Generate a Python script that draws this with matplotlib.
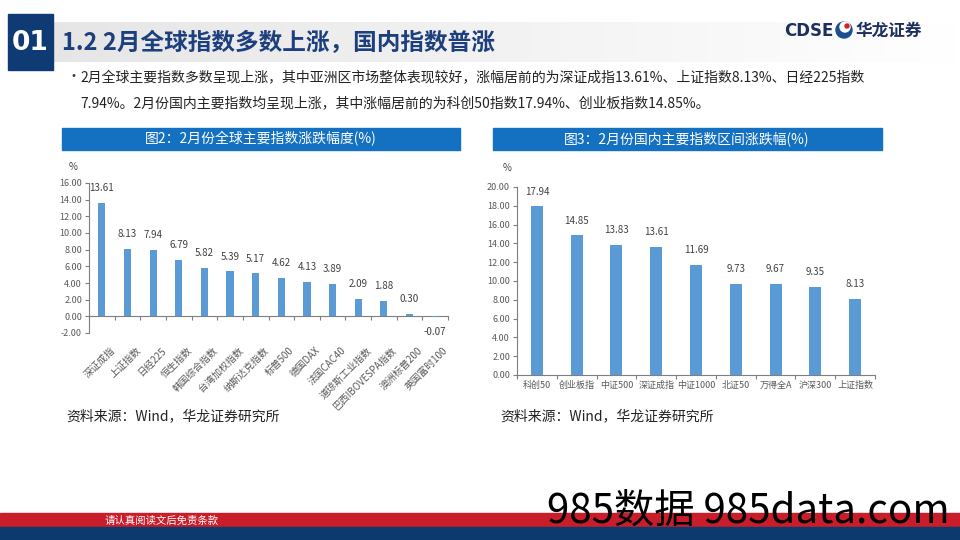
import numpy as np
import matplotlib
matplotlib.use('Agg')
import matplotlib.pyplot as plt
from matplotlib.patches import Rectangle, Circle
import matplotlib.transforms as mtrans

plt.rcParams['font.family'] = ['Noto Sans CJK SC', 'DejaVu Sans']

# global indices, Feb change (%)
global_names = ['深证成指', '上证指数', '日经225', '恒生指数', '韩国综合指数', '台湾加权指数',
                '纳斯达克指数', '标普500', '德国DAX', '法国CAC40', '道琼斯工业指数',
                '巴西IBOVESPA指数', '澳洲标普200', '英国富时100']
global_vals = [13.61, 8.13, 7.94, 6.79, 5.82, 5.39, 5.17, 4.62, 4.13, 3.89, 2.09, 1.88, 0.30, -0.07]
global_yticks = np.arange(-2, 17, 2)

# domestic indices, Feb change (%)
cn_names = ['科创50', '创业板指', '中证500', '深证成指', '中证1000', '北证50', '万得全A', '沪深300', '上证指数']
cn_vals = [17.94, 14.85, 13.83, 13.61, 11.69, 9.73, 9.67, 9.35, 8.13]
cn_yticks = np.arange(0, 21, 2)

W, H = 960, 540
BAR = '#5B9BD5'
AX_C = '#7F7F7F'
TICK_C = '#595959'

fig = plt.figure(figsize=(9.6, 5.4), dpi=100)

# background axes in pixel coords for the page decoration
bg = fig.add_axes([0, 0, 1, 1])
bg.axis('off')

# gray title band fading to white
grad = np.linspace(0.90, 1.0, 256)[None, :]
bg.imshow(np.dstack([grad, grad, grad]), extent=(53, W, 62, 22), aspect='auto', zorder=0)
bg.set_xlim(0, W)
bg.set_ylim(H, 0)
bg.add_patch(Rectangle((8, 14), 45, 56, color='#0E3B74', zorder=2))
bg.text(30.5, 43, '01', color='white', fontsize=19, fontweight='bold', ha='center', va='center',
        family='DejaVu Sans', zorder=3)
bg.text(62, 43, '1.2 2月全球指数多数上涨，国内指数普涨', color='#1D3F7E', fontsize=17,
        fontweight='bold', ha='left', va='center')

# logo
bg.text(784, 31, 'CDSE', color='#1D2F5E', fontsize=12, fontweight='bold', ha='left', va='center',
        family='DejaVu Sans')
bg.add_patch(Circle((844, 30), 8, color='#1D4E8E', zorder=2))
bg.add_patch(Circle((845, 27), 5, color='white', zorder=3))
bg.add_patch(Circle((847, 26), 2, color='#D0202A', zorder=4))
bg.text(856, 31, '华龙证券', color='#1D2F5E', fontsize=12, fontweight='bold', ha='left', va='center')

# bullet text
bg.text(66, 77, '•', fontsize=10, ha='left', va='center', color='#333333')
bg.text(80, 77, '2月全球主要指数多数呈现上涨，其中亚洲区市场整体表现较好，涨幅居前的为深证成指13.61%、上证指数8.13%、日经225指数',
        fontsize=10, ha='left', va='center', color='#222222')
bg.text(80, 103, '7.94%。2月份国内主要指数均呈现上涨，其中涨幅居前的为科创50指数17.94%、创业板指数14.85%。',
        fontsize=10, ha='left', va='center', color='#222222')

# panel headers
bg.add_patch(Rectangle((62, 128), 398, 22, color='#1471C2', zorder=2))
bg.text(261, 139, '图2：2月份全球主要指数涨跌幅度(%)', color='white', fontsize=10, ha='center', va='center', zorder=3)
bg.add_patch(Rectangle((493, 128), 389, 22, color='#1471C2', zorder=2))
bg.text(687, 139, '图3：2月份国内主要指数区间涨跌幅(%)', color='white', fontsize=10, ha='center', va='center', zorder=3)

# sources
bg.text(66, 416, '资料来源：Wind，华龙证券研究所', fontsize=10, ha='left', va='center', color='#222222')
bg.text(500, 416, '资料来源：Wind，华龙证券研究所', fontsize=10, ha='left', va='center', color='#222222')

# footer bands
bg.add_patch(Rectangle((0, 513), W, 14, color='#C91D2A', zorder=2))
bg.add_patch(Rectangle((0, 527), W, 13, color='#0C3A6F', zorder=2))
bg.text(105, 521, '请认真阅读文后免责条款', color='white', fontsize=7.5, ha='left', va='center', zorder=3)
bg.text(950, 511, '985数据 985data.com', color='black', fontsize=29, ha='right', va='center', zorder=4,
        family=['Liberation Sans Narrow', 'Noto Sans CJK SC'])
bg.text(73, 167, '%', fontsize=7, color='#404040', ha='center', va='center')
bg.text(507, 168, '%', fontsize=7, color='#404040', ha='center', va='center')


def px_axes(x0, y_top, x1, y_bot):
    return fig.add_axes([x0 / W, 1 - y_bot / H, (x1 - x0) / W, (y_bot - y_top) / H])


def style_axes(ax, n, yticks):
    ax.set_xlim(-0.5, n - 0.5)
    ax.set_ylim(yticks[0], yticks[-1])
    ax.set_yticks(yticks)
    ax.set_yticklabels(['%.2f' % v for v in yticks])
    for s in ['top', 'right']:
        ax.spines[s].set_visible(False)
    ax.spines['left'].set_color(AX_C)
    ax.spines['bottom'].set_color(AX_C)
    ax.spines['bottom'].set_position(('data', 0))
    ax.set_xticks(np.arange(n + 1) - 0.5)
    ax.set_xticklabels([])
    ax.tick_params(axis='y', colors=AX_C, labelcolor=TICK_C, labelsize=6.5, length=3, width=0.8, pad=2)
    ax.tick_params(axis='x', colors=AX_C, length=3, width=0.8)
    ax.patch.set_alpha(0)


# left chart: global
ax1 = px_axes(89, 183, 448, 333)
style_axes(ax1, len(global_vals), global_yticks)
x1 = np.arange(len(global_vals))
ax1.bar(x1, global_vals, width=0.28, color=BAR, zorder=3)
for xi, v in zip(x1, global_vals):
    off = 7 if v >= 0 else -7
    ax1.annotate('%.2f' % v, (xi, v), xytext=(0, off), textcoords='offset points',
                 ha='center', va='bottom' if v >= 0 else 'top', fontsize=7, color='#404040')
lab_tr = mtrans.blended_transform_factory(ax1.transData, ax1.transAxes)
for xi, name in zip(x1, global_names):
    ax1.text(xi + 0.3, -0.08, name, transform=lab_tr, rotation=45, rotation_mode='anchor',
             ha='right', va='top', fontsize=7, color=TICK_C)

# right chart: domestic
ax2 = px_axes(517, 187, 875, 375)
style_axes(ax2, len(cn_vals), cn_yticks)
x2 = np.arange(len(cn_vals))
ax2.bar(x2, cn_vals, width=0.3, color=BAR, zorder=3)
for xi, v in zip(x2, cn_vals):
    ax2.annotate('%.2f' % v, (xi, v), xytext=(0, 7), textcoords='offset points',
                 ha='center', va='bottom', fontsize=7, color='#404040')
ax2.set_xticks(x2, minor=True)
ax2.set_xticklabels(cn_names, minor=True)
ax2.tick_params(axis='x', which='minor', length=0, labelsize=6.5, labelcolor=TICK_C, pad=4)

fig.savefig('out.png', dpi=100)
